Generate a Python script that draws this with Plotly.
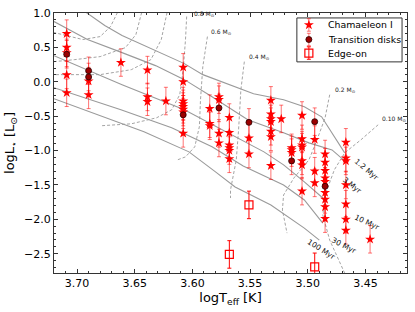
import plotly.graph_objects as go

# ---------------- data ----------------
# Chamaeleon I members (logTeff, logL)
cha_teff = [3.709, 3.709, 3.709, 3.709, 3.709,
            3.690, 3.690,
            3.662,
            3.639, 3.639, 3.639,
            3.623,
            3.608, 3.608, 3.608, 3.608, 3.608, 3.608, 3.608, 3.608,
            3.585, 3.585, 3.585,
            3.577, 3.577, 3.577, 3.577,
            3.568, 3.568, 3.568, 3.568, 3.568, 3.568,
            3.551, 3.551,
            3.532, 3.532, 3.532, 3.532, 3.532, 3.532, 3.532,
            3.523,
            3.514, 3.514, 3.514,
            3.505, 3.505, 3.505, 3.505, 3.505, 3.505, 3.505,
            3.494, 3.494, 3.494,
            3.485, 3.485, 3.485, 3.485, 3.485, 3.485, 3.485, 3.485, 3.485,
            3.467, 3.467, 3.467, 3.467, 3.467, 3.467, 3.467,
            3.446]
cha_logl = [0.70, 0.50, 0.42, 0.10, -0.16,
            0.01, -0.19,
            0.28,
            0.17, -0.22, -0.29,
            -0.28,
            0.21, 0.00, -0.28, -0.32, -0.36, -0.40, -0.44, -0.75,
            -0.39, -0.61, -0.64,
            -0.22, -0.26, -0.75, -0.89,
            -0.52, -0.74, -0.92, -0.96, -1.00, -1.12,
            -0.82, -1.05,
            -0.27, -0.47, -0.54, -0.58, -0.72, -0.80, -1.22,
            -0.54,
            -0.96, -0.99, -1.03,
            -0.49, -0.83, -0.92, -0.95, -1.15, -1.21, -1.59,
            -0.84, -1.30, -1.47,
            -1.05, -1.17, -1.29, -1.40, -1.45, -1.61, -1.71, -1.82, -1.99,
            -0.88, -1.11, -1.15, -1.50, -1.78, -2.00, -2.16,
            -2.29]
cha_err = 0.2

# Transition disks
td_teff = [3.709, 3.690, 3.690, 3.608, 3.577, 3.551, 3.514, 3.494, 3.485]
td_logl = [0.40, 0.16, 0.07, -0.48, -0.38, -0.59, -1.15, -0.58, -1.52]
td_err = 0.2

# Edge-on disks
eo_teff = [3.551, 3.568, 3.494]
eo_logl = [-1.79, -2.51, -2.69]
eo_err = 0.2

# Isochrones (solid)
iso_labels = ["1.2 Myr", "3 Myr", "10 Myr", "30 Myr", "100 Myr"]
iso_1p2_teff = [3.697, 3.676, 3.661, 3.632, 3.607, 3.591, 3.547, 3.521, 3.503, 3.488, 3.468]
iso_1p2_logl = [1.066, 0.818, 0.672, 0.453, 0.264, 0.104, -0.173, -0.261, -0.363, -0.509, -1.033]
iso_3_teff = [3.720, 3.691, 3.661, 3.632, 3.607, 3.583, 3.552, 3.521, 3.499, 3.479, 3.469]
iso_3_logl = [0.876, 0.614, 0.424, 0.235, 0.031, -0.217, -0.553, -0.742, -0.888, -0.990, -1.135]
iso_10_teff = [3.720, 3.661, 3.607, 3.574, 3.538, 3.521, 3.503, 3.485]
iso_10_logl = [0.380, -0.042, -0.407, -0.698, -1.019, -1.208, -1.456, -1.719]
iso_30_teff = [3.720, 3.662, 3.618, 3.583, 3.556, 3.521, 3.503, 3.487]
iso_30_logl = [-0.086, -0.407, -0.669, -0.946, -1.223, -1.500, -1.719, -2.054]
iso_100_teff = [3.720, 3.642, 3.603, 3.591, 3.580, 3.563, 3.532, 3.503, 3.490]
iso_100_logl = [-0.246, -0.727, -1.019, -1.165, -1.310, -1.529, -1.792, -2.127, -2.302]

# Evolutionary tracks (dashed)
trk_a_teff = [3.665, 3.671, 3.680, 3.695, 3.720]
trk_a_logl = [1.007, 0.803, 0.657, 0.614, 0.716]
trk_b_teff = [3.644, 3.649, 3.658, 3.680, 3.702, 3.720]
trk_b_logl = [1.007, 0.687, 0.497, 0.366, 0.322, 0.293]
trk_c_teff = [3.622, 3.627, 3.636, 3.653, 3.680, 3.720]
trk_c_logl = [1.007, 0.614, 0.322, 0.176, 0.104, 0.104]
trk_08_teff = [3.605, 3.606, 3.608, 3.611, 3.618, 3.631, 3.653, 3.680]
trk_08_logl = [0.949, 0.614, 0.176, -0.188, -0.407, -0.523, -0.611, -0.640]
trk_06_teff = [3.587, 3.591, 3.593, 3.594, 3.598, 3.606, 3.613]
trk_06_logl = [0.657, 0.220, -0.261, -0.655, -0.946, -1.092, -1.135]
trk_04_teff = [3.555, 3.558, 3.560, 3.562, 3.567, 3.567]
trk_04_logl = [0.293, -0.115, -0.698, -1.135, -1.573, -1.690]
trk_02_teff = [3.481, 3.485, 3.492, 3.499, 3.512, 3.521, 3.522, 3.518]
trk_02_logl = [-0.188, -0.523, -0.844, -1.135, -1.398, -1.646, -1.864, -2.200]
trk_01_teff = [3.439, 3.454, 3.468, 3.477, 3.485, 3.487, 3.481, 3.468]
trk_01_logl = [-0.625, -0.844, -1.033, -1.281, -1.646, -1.937, -2.302, -2.783]

# Label positions
mass_text = ["0.8 M<sub>⊙</sub>", "0.6 M<sub>⊙</sub>", "0.4 M<sub>⊙</sub>", "0.2 M<sub>⊙</sub>", "0.10 M<sub>⊙</sub>"]
mass_teff = [3.5896, 3.5746, 3.5419, 3.4677, 3.4253]
mass_logl = [0.985, 0.730, 0.366, -0.115, -0.538]
age_teff = [3.4492, 3.4615, 3.4483, 3.4686, 3.4880]
age_logl = [-1.281, -1.515, -2.040, -2.375, -2.433]
age_angle = [40, 38, 25, 27, 32]

x_ticks = [3.70, 3.65, 3.60, 3.55, 3.50, 3.45]
y_ticks = [1.0, 0.5, 0.0, -0.5, -1.0, -1.5, -2.0, -2.5]

legend_names = ["Chamaeleon I", "Transition disks", "Edge-on"]

# ---------------- figure ----------------
fig = go.Figure()
GRAY = "#9a9a9a"
ERR_RGBA = "rgba(255,0,0,0.55)"

for tx, ly in [(iso_1p2_teff, iso_1p2_logl), (iso_3_teff, iso_3_logl),
               (iso_10_teff, iso_10_logl), (iso_30_teff, iso_30_logl),
               (iso_100_teff, iso_100_logl)]:
    fig.add_trace(go.Scatter(x=tx, y=ly, mode="lines", showlegend=False, hoverinfo="skip",
                             line=dict(color=GRAY, width=1.1)))

for tx, ly in [(trk_a_teff, trk_a_logl), (trk_b_teff, trk_b_logl), (trk_c_teff, trk_c_logl),
               (trk_08_teff, trk_08_logl), (trk_06_teff, trk_06_logl), (trk_04_teff, trk_04_logl),
               (trk_02_teff, trk_02_logl), (trk_01_teff, trk_01_logl)]:
    fig.add_trace(go.Scatter(x=tx, y=ly, mode="lines", showlegend=False, hoverinfo="skip",
                             line=dict(color=GRAY, width=0.9, dash="3px,2px")))

STAR = dict(symbol="star", size=7.5, color="#ff0000", line=dict(width=0))
DOT = dict(symbol="circle", size=6, color="#9b0000", line=dict(width=0.8, color="#2a0000"))
SQR = dict(symbol="square-open", size=8, color="#ff0000", line=dict(width=1.2))

fig.add_trace(go.Scatter(
    x=cha_teff, y=cha_logl, mode="markers", name=legend_names[0], showlegend=False,
    marker=STAR,
    error_y=dict(type="constant", value=cha_err, color=ERR_RGBA, thickness=1, width=2)))

fig.add_trace(go.Scatter(
    x=td_teff, y=td_logl, mode="markers", name=legend_names[1], showlegend=False,
    marker=DOT,
    error_y=dict(type="constant", value=td_err, color=ERR_RGBA, thickness=1, width=2)))

fig.add_trace(go.Scatter(
    x=eo_teff, y=eo_logl, mode="markers", name=legend_names[2], showlegend=False,
    marker=SQR,
    error_y=dict(type="constant", value=eo_err, color="#ff0000", thickness=1, width=2)))

# ---- legend box drawn matplotlib-style (keys with error bars) ----
LEG_X0, LEG_X1, LEG_Y0, LEG_Y1 = 0.688, 0.986, 0.812, 0.981
KEY_X = 0.722
TXT_X = 0.770
ROW_Y = [0.954, 0.898, 0.846]
KEY_ERR = 0.024
fig.add_shape(type="rect", xref="paper", yref="paper", x0=LEG_X0, x1=LEG_X1, y0=LEG_Y0, y1=LEG_Y1,
              line=dict(color="#333333", width=1), fillcolor="white", layer="below")
for name, mk, ecol, ry in zip(legend_names, [STAR, DOT, SQR], [ERR_RGBA, ERR_RGBA, "#ff0000"], ROW_Y):
    fig.add_trace(go.Scatter(x=[KEY_X], y=[ry], xaxis="x2", yaxis="y2", mode="markers",
                             showlegend=False, hoverinfo="skip", marker=mk,
                             error_y=dict(type="constant", value=KEY_ERR, color=ecol, thickness=1, width=2)))
    fig.add_annotation(x=TXT_X, y=ry, xref="paper", yref="paper", text=name, showarrow=False,
                       xanchor="left", yanchor="middle", font=dict(size=9.4, color="black", family="DejaVu Sans"))

for t, tx, ty in zip(mass_text, mass_teff, mass_logl):
    fig.add_annotation(x=tx, y=ty, text=t, showarrow=False, xref="x", yref="y",
                       font=dict(size=6, color="#222222", family="DejaVu Sans"))
for t, tx, ty, ang in zip(iso_labels, age_teff, age_logl, age_angle):
    fig.add_annotation(x=tx, y=ty, text=t, showarrow=False, xref="x", yref="y",
                       textangle=ang, font=dict(size=7.5, color="#111111", family="DejaVu Sans"))

axis_common = dict(showline=True, linecolor="#333333", linewidth=1, mirror="allticks",
                   ticks="inside", ticklen=4, tickcolor="#333333", showgrid=False,
                   zeroline=False, automargin=False,
                   tickfont=dict(size=11, color="black", family="DejaVu Sans"))

fig.update_layout(
    width=415, height=312,
    margin=dict(l=54, r=8, t=13, b=39),
    paper_bgcolor="white", plot_bgcolor="white",
    font=dict(family="DejaVu Sans", color="black"),
    showlegend=False,
    xaxis=dict(range=[3.72, 3.414], tickvals=x_ticks, tickformat=".2f",
               minor=dict(dtick=0.01, ticks="inside", ticklen=2, tickcolor="#333333"),
               title=dict(text="logT<sub>eff</sub> [K]", font=dict(size=13), standoff=3),
               **axis_common),
    yaxis=dict(range=[-2.78, 1.0], tickvals=y_ticks, tickformat=".1f",
               minor=dict(dtick=0.1, ticks="inside", ticklen=2, tickcolor="#333333"),
               title=dict(text="logL<sub>⋆</sub> [L<sub>⊙</sub>]", font=dict(size=13), standoff=6),
               **axis_common),
    xaxis2=dict(range=[0, 1], overlaying="x", visible=False, fixedrange=True),
    yaxis2=dict(range=[0, 1], overlaying="y", visible=False, fixedrange=True),
)

fig.write_html("out.html", config={"displayModeBar": False},
               post_script="document.body.style.margin='0px';document.body.style.padding='0px';")
